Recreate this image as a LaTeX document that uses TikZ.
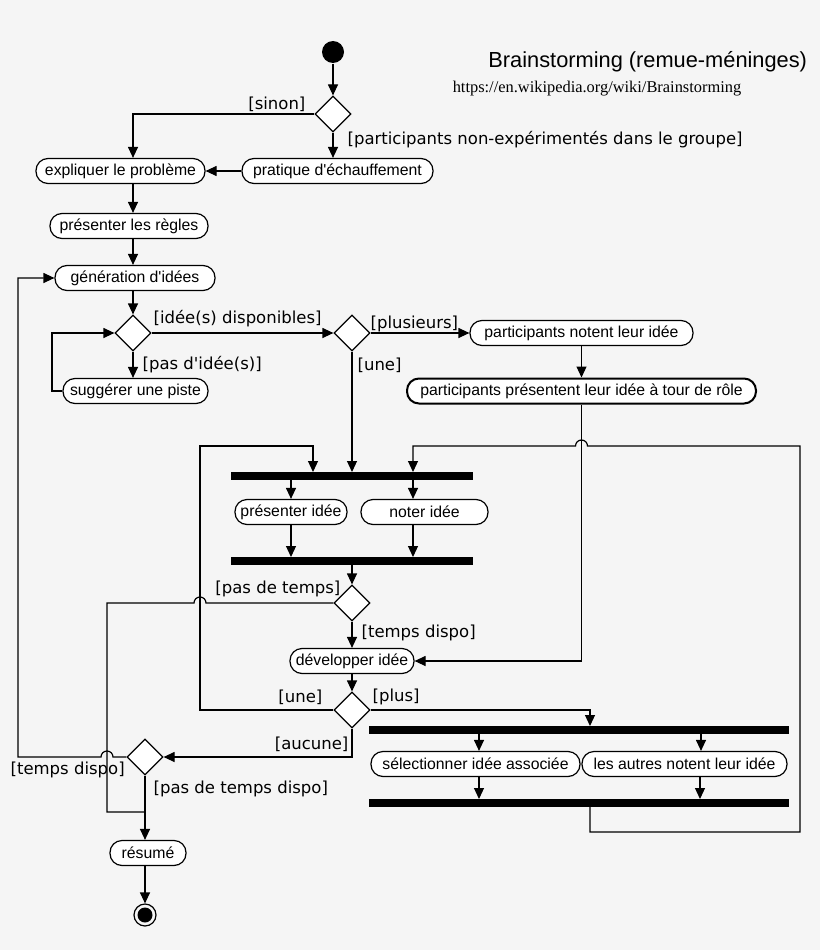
\documentclass[tikz,border=0pt]{standalone}
\usepackage{fontspec}
\setmainfont{Liberation Sans}
\newfontfamily\actfont{Liberation Sans}
\newfontfamily\labfont{DejaVu Sans}
\newfontfamily\urlfont{Liberation Serif}
\usetikzlibrary{arrows.meta,shapes.geometric}
\begin{document}
\begin{tikzpicture}[x=1pt,y=-1pt,line width=1.2pt,
  act/.style={draw,fill=white,rounded corners=12pt,minimum height=25pt,inner xsep=0pt,font=\actfont\fontsize{15.8}{17}\selectfont},
  dia/.style={draw,fill=white,shape=diamond,minimum size=36pt,inner sep=0pt},
  lab/.style={font=\labfont\fontsize{16.5}{18}\selectfont,inner sep=0pt},
  ar/.style={-{Triangle[length=11pt,width=10pt]}}]
\useasboundingbox[fill=white!96!black] (0,0) rectangle (820,950);
\node[fill=black,circle,minimum size=22pt,inner sep=0] (start) at (333,52) {};
\node[font=\fontsize{21.8}{24}\selectfont,anchor=east] (title) at (811,62) {Brainstorming (remue-méninges)};
\node[font=\urlfont\fontsize{16.4}{18}\selectfont] (url) at (597,89) {https://en.wikipedia.org/wiki/Brainstorming};
\node[dia] (d1) at (333,114) {};
\node[act,minimum width=169pt] (expl) at (120.5,171) {expliquer le problème};
\node[act,minimum width=191pt] (prat) at (337.5,171) {pratique d'échauffement};
\node[act,minimum width=158pt] (regl) at (129,226) {présenter les règles};
\node[act,minimum width=160pt] (gen) at (135,278) {génération d'idées};
\node[dia] (d2) at (133,333) {};
\node[act,minimum width=145pt] (sugg) at (135.5,391) {suggérer une piste};
\node[dia] (d3) at (352,333) {};
\node[act,minimum width=223pt] (pnot) at (581.5,333) {participants notent leur idée};
\node[act,minimum width=349pt,line width=2pt] (ppres) at (581.5,391) {participants présentent leur idée à tour de rôle};
\fill (231,472) rectangle (473,480);
\node[act,minimum width=112pt] (pidee) at (291,512) {présenter idée};
\node[act,minimum width=127pt] (nidee) at (424.5,512) {noter idée};
\fill (231,557) rectangle (473,565);
\node[dia] (d4) at (352,603) {};
\node[act,minimum width=124pt] (dev) at (352,661) {développer idée};
\node[dia] (d5) at (352,710) {};
\fill (369,726) rectangle (789,734);
\node[act,minimum width=209pt] (sel) at (475.5,764) {sélectionner idée associée};
\node[act,minimum width=205pt] (aut) at (684.5,764) {les autres notent leur idée};
\fill (369,799) rectangle (789,807);
\node[dia] (d6) at (145,757) {};
\node[act,minimum width=76pt] (res) at (148,853) {résumé};
\node[circle,draw,minimum size=22pt,inner sep=0,line width=1.2pt] (end) at (145,915) {};
\fill (145,915) circle (7.5pt);
% connectors
\draw[ar] (start) -- (d1);
\draw[ar] (d1.west) -- (133,114) -- (expl.north-|133,0);
\draw[ar] (d1.south) -- (prat.north-|333,0);
\draw[ar] (prat) -- (expl);
\draw[ar] (expl.south-|133,0) -- (regl.north-|133,0);
\draw[ar] (regl.south-|133,0) -- (gen.north-|133,0);
\draw[ar] (gen.south-|133,0) -- (d2);
\draw[ar] (d2) -- (sugg.north-|133,0);
\draw[ar] (sugg.west) -- (52,391) -- (52,333) -- (d2.west);
\draw[ar] (d2) -- (d3);
\draw[ar] (d3) -- (pnot);
\draw[ar] (pnot) -- (ppres);
\draw[ar] (d3.south) -- (352,472);
\draw[ar] (ppres.south) -- (581.5,661) -- (dev.east);
\draw[ar] (291,480) -- (pidee.north-|291,0);
\draw[ar] (413,480) -- (nidee.north-|413,0);
\draw[ar] (pidee.south-|291,0) -- (291,557);
\draw[ar] (nidee.south-|413,0) -- (413,557);
\draw[ar] (352,565) -- (d4.north);
\draw[ar] (d4.south) -- (dev);
\draw[ar] (dev) -- (d5);
\draw (d4.west) -- (206,603) arc(0:-180:6) -- (107,603) -- (107,812) -- (145,812);
\draw[ar] (d5.west) -- (200,710) -- (200,446) -- (313,446) -- (313,472);
\draw[ar] (d5.east) -- (590,710) -- (590,726);
\draw[ar] (590,807) -- (590,832) -- (800,832) -- (800,446) -- (587.5,446) arc(0:-180:6) -- (413,446) -- (413,472);
\draw[ar] (d5.south) -- (352,757) -- (d6.east);
\draw[ar] (479,734) -- (sel.north-|479,0);
\draw[ar] (701,734) -- (aut.north-|701,0);
\draw[ar] (sel.south-|479,0) -- (479,799);
\draw[ar] (aut.south-|700,0) -- (700,799);
\draw[ar] (d6.west) -- (113,757) arc(0:-180:6) -- (18,757) -- (18,278) -- (gen.west);
\draw[ar] (d6.south) -- (145,812) -- (res.north-|145,0);
\draw[ar] (res.south-|145,0) -- (end);
% labels
\node[lab,anchor=south east] (l1) at (306,112) {[sinon]};
\node[lab,anchor=west] (l2) at (347,140) {[participants non-expérimentés dans le groupe]};
\node[lab,anchor=west] (l3) at (153,319) {[idée(s) disponibles]};
\node[lab,anchor=west] (l4) at (142,365) {[pas d'idée(s)]};
\node[lab,anchor=west] (l5) at (370,324) {[plusieurs]};
\node[lab,anchor=west] (l6) at (357,365) {[une]};
\node[lab,anchor=east] (l7) at (341,589) {[pas de temps]};
\node[lab,anchor=west] (l8) at (361,633) {[temps dispo]};
\node[lab,anchor=east] (l9) at (323,697) {[une]};
\node[lab,anchor=west] (l10) at (372,697) {[plus]};
\node[lab,anchor=east] (l11) at (349,744) {[aucune]};
\node[lab,anchor=west] (l12) at (10,770) {[temps dispo]};
\node[lab,anchor=west] (l13) at (153,789) {[pas de temps dispo]};
\end{tikzpicture}
\end{document}
